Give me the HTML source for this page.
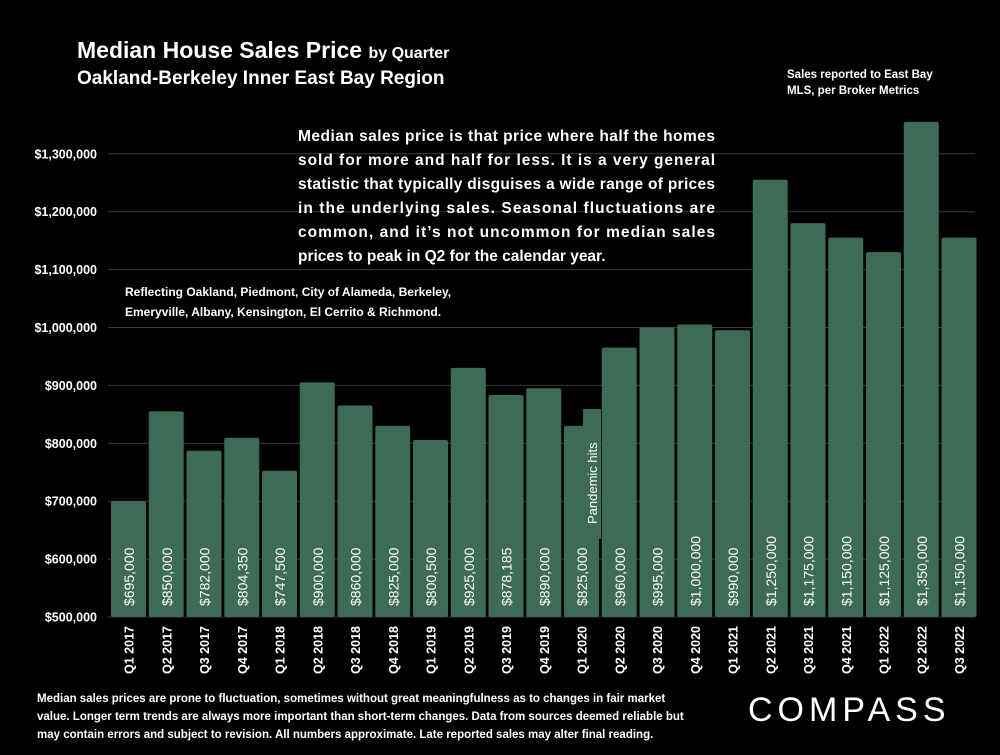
<!DOCTYPE html>
<html><head><meta charset="utf-8"><style>
body{margin:0;background:#000;width:1000px;height:750px;overflow:hidden;font-family:"Liberation Sans",sans-serif;color:#fff}
svg text{font-family:"Liberation Sans",sans-serif;fill:#fff}
</style></head><body>
<svg id="c" width="1000" height="750">
<text x="77" y="58" font-size="23" font-weight="bold">Median House Sales Price <tspan font-size="16">by Quarter</tspan></text>
<text x="77" y="84" font-size="19" font-weight="bold">Oakland-Berkeley Inner East Bay Region</text>
<text x="787" y="78" font-size="11.5" font-weight="bold"><tspan x="787">Sales reported to East Bay</tspan><tspan x="787" dy="16">MLS, per Broker Metrics</tspan></text>
<g id="grid"></g><g id="bars"></g>
<rect x="583" y="409" width="18" height="130" fill="#3d6b56"/>
<text transform="translate(597,524) rotate(-90)" font-size="13">Pandemic hits</text>
<text font-size="15.5" font-weight="bold">
<tspan x="298" y="141" textLength="417" lengthAdjust="spacing">Median sales price is that price where half the homes</tspan>
<tspan x="298" y="165" textLength="417" lengthAdjust="spacing">sold for more and half for less. It is a very general</tspan>
<tspan x="298" y="189" textLength="417" lengthAdjust="spacing">statistic that typically disguises a wide range of prices</tspan>
<tspan x="298" y="213" textLength="417" lengthAdjust="spacing">in the underlying sales. Seasonal fluctuations are</tspan>
<tspan x="298" y="237" textLength="417" lengthAdjust="spacing">common, and it’s not uncommon for median sales</tspan>
<tspan x="298" y="261">prices to peak in Q2 for the calendar year.</tspan></text>
<text font-size="12" font-weight="bold"><tspan x="125" y="296">Reflecting Oakland, Piedmont, City of Alameda, Berkeley,</tspan><tspan x="125" y="316">Emeryville, Albany, Kensington, El Cerrito &amp; Richmond.</tspan></text>
<text font-size="11.5" font-weight="bold"><tspan x="37" y="702">Median sales prices are prone to fluctuation, sometimes without great meaningfulness as to changes in fair market</tspan><tspan x="37" y="720">value. Longer term trends are always more important than short-term changes. Data from sources deemed reliable but</tspan><tspan x="37" y="738">may contain errors and subject to revision. All numbers approximate. Late reported sales may alter final reading.</tspan></text>
<text x="748" y="721" font-size="34" letter-spacing="5">COMPASS</text>
</svg>
<script>
const categories=["Q1 2017","Q2 2017","Q3 2017","Q4 2017","Q1 2018","Q2 2018","Q3 2018","Q4 2018","Q1 2019","Q2 2019","Q3 2019","Q4 2019","Q1 2020","Q2 2020","Q3 2020","Q4 2020","Q1 2021","Q2 2021","Q3 2021","Q4 2021","Q1 2022","Q2 2022","Q3 2022"];
const values=[695000,850000,782000,804350,747500,900000,860000,825000,800500,925000,878185,890000,825000,960000,995000,1000000,990000,1250000,1175000,1150000,1125000,1350000,1150000];
const valueLabels=["$695,000","$850,000","$782,000","$804,350","$747,500","$900,000","$860,000","$825,000","$800,500","$925,000","$878,185","$890,000","$825,000","$960,000","$995,000","$1,000,000","$990,000","$1,250,000","$1,175,000","$1,150,000","$1,125,000","$1,350,000","$1,150,000"];
const ticks=[500000,600000,700000,800000,900000,1000000,1100000,1200000,1300000];
const tickLabels=["$500,000","$600,000","$700,000","$800,000","$900,000","$1,000,000","$1,100,000","$1,200,000","$1,300,000"];
const NS="http://www.w3.org/2000/svg";
const y=v=>617-(v-500000)/100000*57.9;
const x=i=>111+i*37.75;
const g=document.getElementById('grid'),b=document.getElementById('bars');
ticks.forEach((t,i)=>{
 const l=document.createElementNS(NS,'line');
 l.setAttribute('x1',108);l.setAttribute('x2',975);l.setAttribute('y1',y(t));l.setAttribute('y2',y(t));
 l.setAttribute('stroke','#3a3a3a');l.setAttribute('stroke-width',1);
 
 
 g.appendChild(l);
 const tx=document.createElementNS(NS,'text');
 tx.setAttribute('x',97);tx.setAttribute('y',y(t)+4.5);tx.setAttribute('text-anchor','end');
 tx.setAttribute('font-size',12.5);tx.setAttribute('font-weight','bold');tx.textContent=tickLabels[i];
 
 
 g.appendChild(tx);
});
categories.forEach((c,i)=>{
 const r=document.createElementNS(NS,'rect');
 r.setAttribute('x',x(i));r.setAttribute('y',y(values[i])-3);r.setAttribute('width',35);
 r.setAttribute('height',617-y(values[i])+3);r.setAttribute('fill','#3d6b56');r.setAttribute('rx',2);
 
 
 b.appendChild(r);
 const v=document.createElementNS(NS,'text');
 v.setAttribute('transform',`translate(${x(i)+23},606) rotate(-90)`);
 v.setAttribute('font-size',14);v.textContent=valueLabels[i];
 
 
 b.appendChild(v);
 const cl=document.createElementNS(NS,'text');
 cl.setAttribute('transform',`translate(${x(i)+22.5},626) rotate(-90)`);
 cl.setAttribute('text-anchor','end');cl.setAttribute('font-size',12.5);cl.setAttribute('font-weight','bold');
 cl.textContent=c;
 
 
 b.appendChild(cl);
});
</script>
</body></html>
